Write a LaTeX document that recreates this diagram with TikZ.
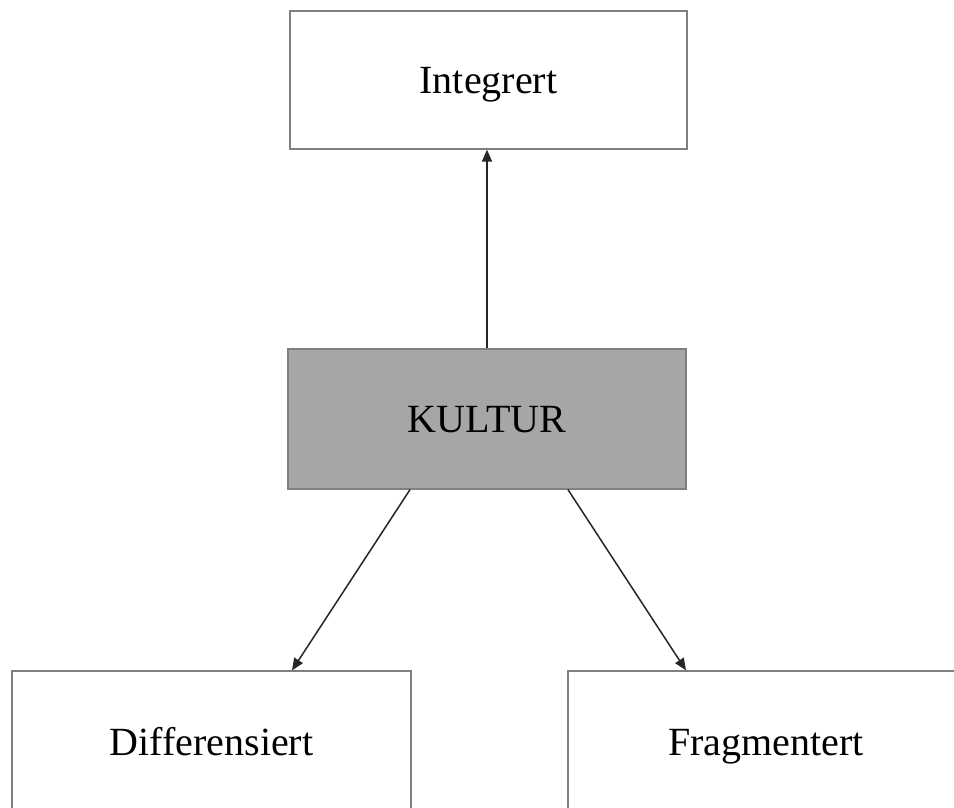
\documentclass[tikz,border=0pt]{standalone}
\usepackage{fontspec}
\setmainfont{Liberation Serif}
\usetikzlibrary{arrows.meta}
\definecolor{boxline}{HTML}{7F7F7F}
\definecolor{kfill}{HTML}{A6A6A6}
\definecolor{arr}{HTML}{262626}
\begin{document}
\begin{tikzpicture}[x=1pt,y=-1pt,
  box/.style={draw=boxline, line width=1.3pt, fill=white, rectangle,
    inner sep=0pt, text height=26pt, text depth=0pt,
    font=\fontsize{40}{48}\selectfont, text=black},
  conn/.style={draw=arr, line width=1.5pt, -{Triangle[length=12pt,width=10pt]}}]
\useasboundingbox (0,0) rectangle (954,807);
\begin{scope}
\clip (0,0) rectangle (954,807);
\fill[white] (0,0) rectangle (954,807);
\node[box, minimum width=397pt, minimum height=138pt] (I) at (488.5,80) {Integrert};
\node[box, fill=kfill, minimum width=398pt, minimum height=140pt] (K) at (487,419) {KULTUR};
\node[box, minimum width=399pt, minimum height=142pt] (D) at (211.5,742) {Differensiert};
\node[box, minimum width=396pt, minimum height=142pt] (F) at (766,742) {Fragmentert};
\draw[conn] (K.north) -- (K.north |- I.south);
\draw[conn] ([xshift=-77pt]K.south) -- ([xshift=80.5pt]D.north);
\draw[conn] ([xshift=81pt]K.south) -- ([xshift=-80pt]F.north);
\end{scope}
\end{tikzpicture}
\end{document}
